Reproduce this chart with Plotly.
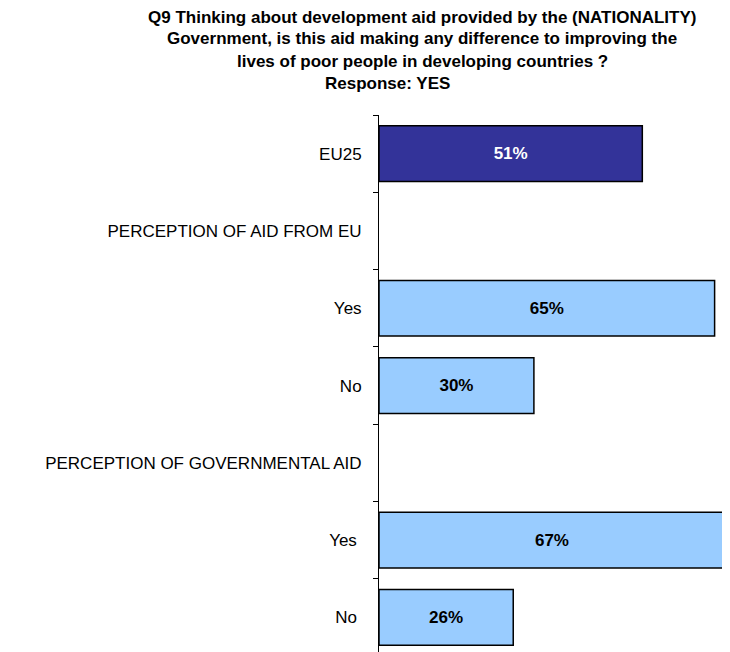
import plotly.graph_objects as go

categories = ["EU25", "PERCEPTION OF AID FROM EU", "Yes", "No",
              "PERCEPTION OF GOVERNMENTAL AID", "Yes ", "No "]
values = [51, None, 65, 30, None, 67, 26]
bar_colors = ["#333399", "#99CCFF", "#99CCFF", "#99CCFF", "#99CCFF", "#99CCFF", "#99CCFF"]
text_colors = ["white", "black", "black", "black", "black", "black", "black"]
title_lines = [
    "Q9 Thinking about development aid provided by the (NATIONALITY)",
    "Government, is this aid making any difference to improving the",
    "lives of poor people in developing countries ?",
    "Response: YES",
]

FONT = "Liberation Sans, Arial, sans-serif"
texts = [f"{v}%" if v is not None else "" for v in values]

fig = go.Figure(go.Bar(
    x=values, y=categories, orientation="h",
    marker=dict(color=bar_colors, line=dict(color="black", width=1.5)),
    width=0.72,
    text=texts, textposition="inside", insidetextanchor="middle", textangle=0,
    textfont=dict(color=text_colors, size=17, family=FONT, weight="bold"),
    hoverinfo="skip",
))

# page body has an 8px default margin; figure is sized to fill the rest
OFF = 8
W, H = 730 - OFF, 652 - OFF
ml, mr, mt, mb = 379 - OFF, 3, 115 - OFF, 0
pw = W - ml - mr
ph = H - mt - mb

annotations = []
line_y = [17, 39, 61, 83]
line_x = [422, 422, 422, 387]
for txt, py, px in zip(title_lines, line_y, line_x):
    annotations.append(dict(
        text=f"<b>{txt}</b>", xref="paper", yref="paper",
        x=(px - OFF - ml) / pw, y=(H - mb - (py - OFF)) / ph,
        xanchor="center", yanchor="middle", showarrow=False,
        font=dict(size=17, family=FONT, color="black"),
    ))

fig.update_layout(
    width=W, height=H,
    margin=dict(l=ml, r=mr, t=mt, b=mb, pad=0),
    plot_bgcolor="white", paper_bgcolor="white",
    showlegend=False,
    annotations=annotations,
    xaxis=dict(range=[0, 67.4], visible=False, fixedrange=True),
    yaxis=dict(
        type="category", categoryorder="array", categoryarray=categories,
        range=[6.447, -0.5], tickson="boundaries", ticks="outside",
        ticklen=5, tickcolor="black", tickwidth=1,
        showline=True, linecolor="black", linewidth=1, showgrid=False,
        tickfont=dict(size=17, family=FONT, color="black"),
        ticklabelstandoff=13, fixedrange=True,
    ),
)

fig.write_html("out.html")
